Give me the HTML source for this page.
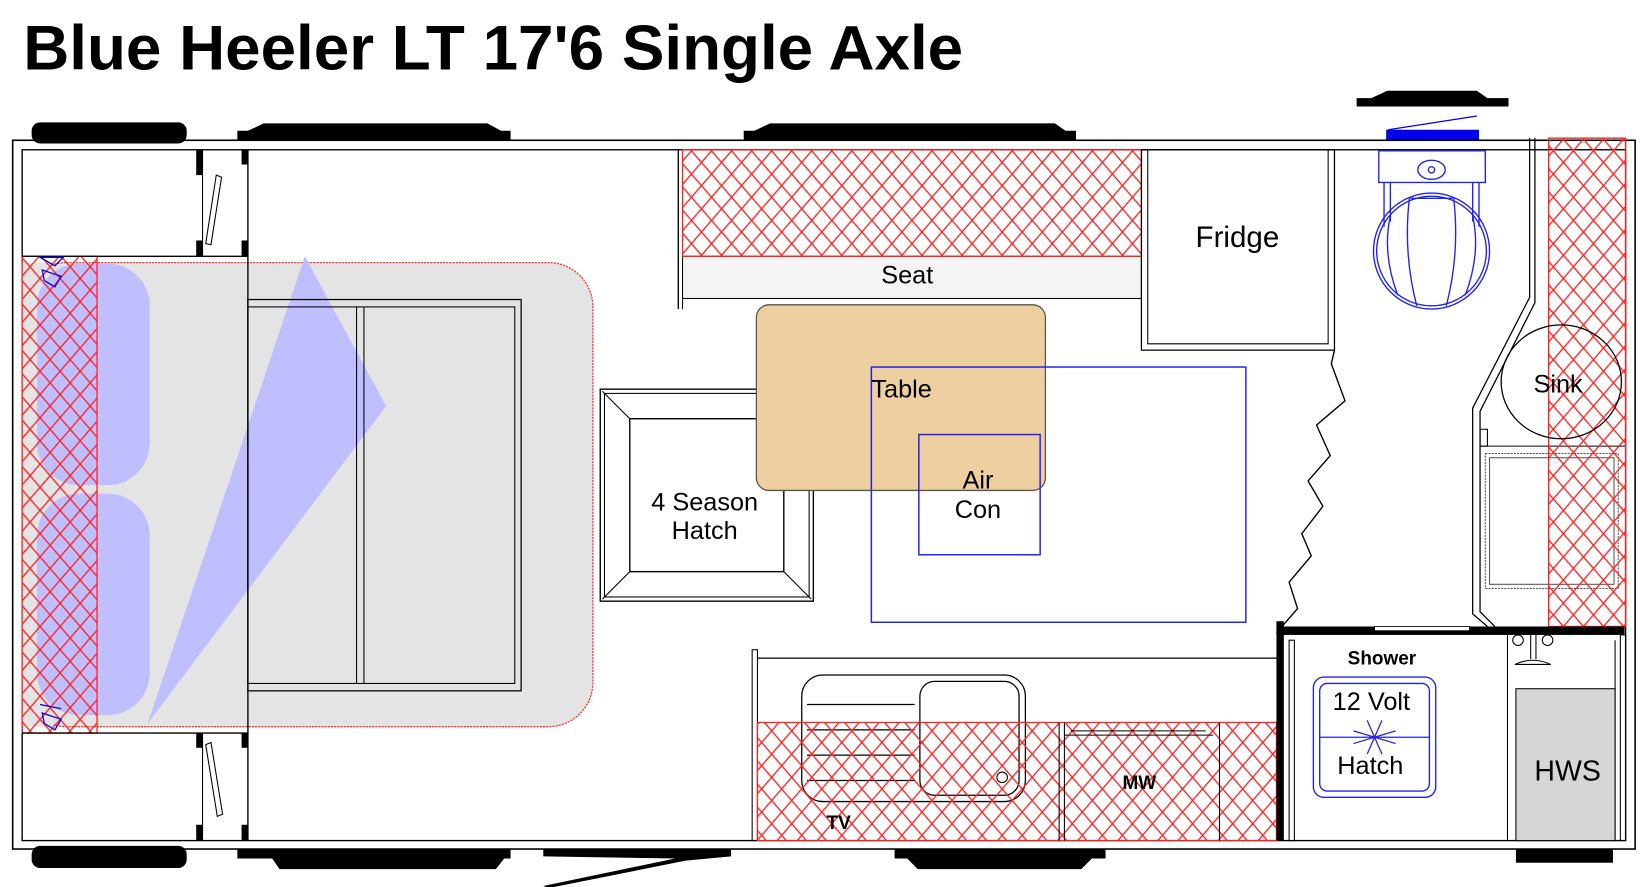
<!DOCTYPE html>
<html><head><meta charset="utf-8"><style>
html,body{margin:0;padding:0;background:#fff;}
svg{display:block;}
text{font-family:"Liberation Sans",Arial,sans-serif;}
</style></head><body>
<svg width="1652" height="887" viewBox="0 0 1566 841" preserveAspectRatio="none" xmlns="http://www.w3.org/2000/svg">
<defs>
<pattern id="h" width="19" height="22" patternUnits="userSpaceOnUse">
<path d="M0,0 L19,22 M19,0 L0,22" stroke="#ff2020" stroke-width="1.3" fill="none"/>
</pattern>
</defs>
<rect width="1566" height="841" fill="#fff"/>
<text x="22" y="66" font-size="60" font-weight="bold" fill="#000" textLength="891" lengthAdjust="spacingAndGlyphs">Blue Heeler LT 17'6 Single Axle</text>

<!-- wheels/top -->
<rect x="30" y="116" width="147" height="20" rx="8" fill="#000"/>
<path d="M225,133 L225,124 L235,124 L250,117 L462,117 L475,124 L484,124 L484,133Z" fill="#000"/>
<path d="M705,133 L705,124 L715,124 L730,117 L1000,117 L1010,124 L1020,124 L1020,133Z" fill="#000"/>
<path d="M1286,101 L1286,93 L1300,93 L1315,86 L1400,86 L1410,93 L1430,93 L1430,101Z" fill="#000"/>
<rect x="1314" y="123" width="88" height="10" fill="#0000ee"/>
<line x1="1316" y1="123" x2="1400" y2="110" stroke="#0000ee" stroke-width="1.2"/>
<!-- bottom -->
<rect x="30" y="802" width="147" height="21" rx="8" fill="#000"/>
<path d="M225,805 L225,814 L258,814 L265,824 L470,824 L478,814 L484,814 L484,805Z" fill="#000"/>
<path d="M515,805 L693,805 L693,812 L650,816 L520,842 L515,840 L640,814 L515,812Z" fill="#000"/>
<path d="M848,805 L848,814 L860,814 L870,824 L1025,824 L1035,814 L1048,814 L1048,805Z" fill="#000"/>
<rect x="1437" y="805" width="92" height="13" fill="#000"/>

<!-- body -->
<rect x="12" y="133" width="1538" height="672" fill="none" stroke="#000" stroke-width="1.5"/>
<rect x="21" y="142" width="1520" height="655" fill="none" stroke="#000" stroke-width="1.3"/>

<!-- bed -->
<rect x="21" y="249" width="541" height="440" rx="42" fill="#e4e4e4" stroke="#ff3030" stroke-width="1.2" stroke-dasharray="2,1"/>
<rect x="21" y="249" width="30" height="440" fill="#e4e4e4"/>
<rect x="35" y="250" width="107" height="210" rx="40" fill="#bfbfff"/>
<rect x="35" y="468" width="107" height="210" rx="40" fill="#bfbfff"/>
<rect x="21" y="243" width="71" height="452" fill="url(#h)" stroke="#ff2020" stroke-width="1.2"/>
<polygon points="289,243 366,385 140,686" fill="#bfbfff"/>
<rect x="235" y="284" width="259" height="371" fill="none" stroke="#000" stroke-width="1.2"/>
<rect x="235" y="291" width="253" height="357" fill="none" stroke="#000" stroke-width="1"/>
<line x1="338" y1="291" x2="338" y2="648" stroke="#000"/>
<line x1="345" y1="291" x2="345" y2="648" stroke="#000"/>
<line x1="235" y1="142" x2="235" y2="797" stroke="#000" stroke-width="1.3"/>
<!-- wardrobes -->
<line x1="21" y1="243" x2="235" y2="243" stroke="#000" stroke-width="1.3"/>
<line x1="21" y1="695" x2="235" y2="695" stroke="#000" stroke-width="1.3"/>
<rect x="186" y="142" width="6" height="24" fill="#000"/><rect x="186" y="228" width="6" height="15" fill="#000"/>
<rect x="229" y="142" width="6" height="14" fill="#000"/><rect x="229" y="228" width="6" height="15" fill="#000"/>
<rect x="186" y="695" width="6" height="14" fill="#000"/><rect x="186" y="782" width="6" height="15" fill="#000"/>
<rect x="229" y="695" width="6" height="14" fill="#000"/><rect x="229" y="782" width="6" height="15" fill="#000"/>
<line x1="192" y1="142" x2="192" y2="243" stroke="#000"/>
<line x1="192" y1="695" x2="192" y2="797" stroke="#000"/>
<path d="M205,166 L210,168 L200,232 L195,231Z" fill="none" stroke="#000"/>
<path d="M195,706 L200,704 L211,772 L206,774Z" fill="none" stroke="#000"/>
<g stroke="#0000ee" fill="none" stroke-width="1.2">
<path d="M40,256 L58,262 L52,272 L42,266Z M38,244 L60,244 L52,252Z"/>
<path d="M40,676 L58,682 L52,692 L42,686Z M38,668 L58,672"/>
</g>

<!-- seat -->
<line x1="643" y1="142" x2="643" y2="293" stroke="#000" stroke-width="1.3"/>
<line x1="647" y1="142" x2="647" y2="293" stroke="#000" stroke-width="1"/>
<rect x="647" y="243" width="435" height="40" fill="#f4f4f4" stroke="#000" stroke-width="1"/>
<rect x="647" y="142" width="435" height="101" fill="url(#h)" stroke="#ff2020" stroke-width="1.2"/>
<text x="860" y="269" font-size="24" text-anchor="middle">Seat</text>
<!-- fridge -->
<rect x="1082" y="142" width="183" height="190" fill="none" stroke="#000" stroke-width="1.2"/>
<polyline points="1088,142 1088,326 1259,326 1259,142" fill="none" stroke="#000"/>
<text x="1173" y="234" font-size="28" text-anchor="middle">Fridge</text>

<!-- hatch 4 season -->
<rect x="569" y="369" width="202" height="201" fill="none" stroke="#000" stroke-width="1.3"/>
<rect x="573" y="373" width="194" height="193" fill="none" stroke="#000" stroke-width="1"/>
<rect x="597" y="397" width="146" height="145" fill="none" stroke="#000" stroke-width="1.3"/>
<path d="M571,371 L597,397 M769,371 L743,397 M571,568 L597,542 M769,568 L743,542" stroke="#000"/>
<!-- table -->
<rect x="717" y="289" width="274" height="176" rx="12" fill="#edcfa0" stroke="#555" stroke-width="1.2"/>
<text x="668" y="484" font-size="24" text-anchor="middle">4 Season</text>
<text x="668" y="511" font-size="24" text-anchor="middle">Hatch</text>
<rect x="826" y="348" width="355" height="242" fill="none" stroke="#2222ee" stroke-width="1.4"/>
<rect x="871" y="412" width="115" height="114" fill="none" stroke="#2222ee" stroke-width="1.4"/>
<text x="826" y="377" font-size="24">Table</text>
<text x="927" y="463" font-size="24" text-anchor="middle">Air</text>
<text x="927" y="491" font-size="24" text-anchor="middle">Con</text>

<!-- zigzag -->
<polyline points="1265,332 1262,345 1275,380 1248,403 1261,432 1240,456 1254,480 1234,506 1243,527 1222,552 1230,577 1210,600" fill="none" stroke="#000" stroke-width="1.3"/>

<!-- kitchen -->
<rect x="713" y="616" width="5" height="181" fill="none" stroke="#000"/>
<line x1="718" y1="624" x2="1210" y2="624" stroke="#000" stroke-width="1.2"/>
<rect x="760" y="640" width="212" height="120" rx="20" fill="none" stroke="#000" stroke-width="1.2"/>
<rect x="872" y="646" width="94" height="108" rx="14" fill="none" stroke="#000" stroke-width="1.2"/>
<path d="M765,668 L867,668 M765,692 L867,692 M765,716 L867,716 M765,740 L867,740" stroke="#000" stroke-width="1.2"/>
<circle cx="950" cy="737" r="5" fill="none" stroke="#000"/>
<rect x="718" y="685" width="492" height="112" fill="url(#h)" stroke="#ff2020" stroke-width="1.2"/>
<path d="M1004,685 L1004,797 M1009,685 L1009,797 M1156,685 L1156,797 M1009,697 L1150,697 M1015,693 L1143,693" stroke="#000"/>
<text x="795" y="786" font-size="18" font-weight="bold" text-anchor="middle">TV</text>
<text x="1080" y="748" font-size="18" font-weight="bold" text-anchor="middle">MW</text>

<!-- toilet area -->
<g stroke="#2222ee" fill="none" stroke-width="1.3">
<rect x="1307" y="143" width="101" height="30"/>
<ellipse cx="1357" cy="161" rx="13" ry="9"/>
<circle cx="1357" cy="161" r="3"/>
<path d="M1312,173 L1312,215 M1318,173 L1318,210 M1396,173 L1396,210 M1402,173 L1402,215"/>
<ellipse cx="1357" cy="238" rx="55" ry="55"/>
<ellipse cx="1357" cy="238" rx="52" ry="52"/>
<path d="M1336,188 Q1330,240 1343,290 M1378,188 Q1384,240 1371,290 M1318,205 Q1310,240 1325,280 M1396,205 Q1404,240 1389,280 M1337,188 L1377,188"/>
</g>
<!-- vanity / sink walls -->
<polyline points="1450,131 1450,282 1396,387 1396,582 1410,594" fill="none" stroke="#000" stroke-width="1.2"/>
<polyline points="1455,131 1455,287 1403,390 1403,580 1417,594" fill="none" stroke="#000" stroke-width="1.2"/>
<rect x="1403" y="407" width="7" height="16" fill="none" stroke="#000"/>
<line x1="1403" y1="423" x2="1541" y2="423" stroke="#000"/>
<rect x="1408" y="430" width="126" height="128" fill="none" stroke="#555" stroke-dasharray="2,1"/>
<rect x="1412" y="434" width="118" height="120" fill="none" stroke="#555"/>
<rect x="1468" y="131" width="73" height="463" fill="url(#h)" stroke="#ff2020" stroke-width="1.3"/>
<ellipse cx="1480" cy="362" rx="57" ry="54" fill="none" stroke="#000" stroke-width="1.2"/>
<text x="1477" y="372" font-size="24" text-anchor="middle">Sink</text>

<!-- shower -->
<rect x="1210" y="589" width="7" height="208" fill="#000"/>
<rect x="1210" y="594" width="330" height="8" fill="#000"/>
<rect x="1303" y="594" width="90" height="4" fill="#fff" stroke="#000" stroke-width="0.8"/>
<rect x="1222" y="607" width="5" height="190" fill="none" stroke="#000"/>
<rect x="1536" y="602" width="5" height="195" fill="none" stroke="#000"/>
<line x1="1531" y1="607" x2="1531" y2="797" stroke="#000"/>
<line x1="1429" y1="602" x2="1429" y2="797" stroke="#000"/>
<text x="1310" y="630" font-size="18" font-weight="bold" text-anchor="middle">Shower</text>
<rect x="1245" y="642" width="116" height="114" rx="10" fill="none" stroke="#2222ee" stroke-width="1.3"/>
<rect x="1251" y="648" width="104" height="102" rx="7" fill="none" stroke="#2222ee" stroke-width="1.3"/>
<line x1="1251" y1="699" x2="1355" y2="699" stroke="#2222ee" stroke-width="1.2"/>
<g stroke="#2222ee" stroke-width="1.2" fill="none">
<path d="M1283,693 L1323,705 M1283,705 L1323,693 M1296,683 L1310,715 M1310,683 L1296,715"/>
</g>
<text x="1300" y="673" font-size="24" text-anchor="middle">12 Volt</text>
<text x="1299" y="734" font-size="24" text-anchor="middle">Hatch</text>
<circle cx="1439" cy="607" r="5" fill="none" stroke="#000"/>
<circle cx="1467" cy="607" r="5" fill="none" stroke="#000"/>
<path d="M1451,602 L1451,625 M1456,602 L1456,625 M1436,630 Q1453,622 1470,630Z" stroke="#000" fill="none"/>
<rect x="1437" y="653" width="94" height="144" fill="#d6d6d6" stroke="#000"/>
<text x="1486" y="740" font-size="27" text-anchor="middle">HWS</text>
</svg>
</body></html>
